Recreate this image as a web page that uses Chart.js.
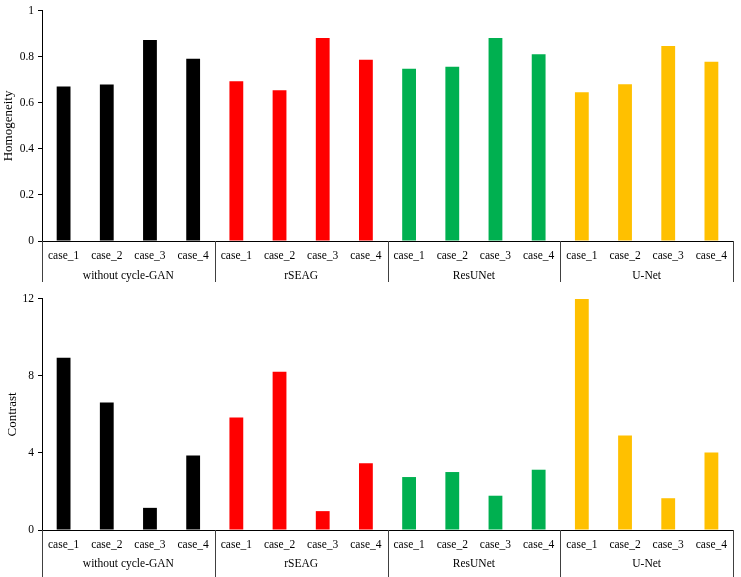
<!DOCTYPE html>
<html>
<head>
<meta charset="utf-8">
<script src="https://cdn.jsdelivr.net/npm/chart.js@4/dist/chart.umd.min.js"></script>
<style>
  html, body { margin: 0; padding: 0; background: #fff; }
  .panel { position: absolute; left: 0; width: 741px; }
  #top { top: 0; height: 288px; }
  #bottom { top: 288px; height: 289px; }
</style>
</head>
<body>
<div class="panel" id="top"><canvas id="chartHomogeneity"></canvas></div>
<div class="panel" id="bottom"><canvas id="chartContrast"></canvas></div>
<script>
const methods = ["without cycle-GAN", "rSEAG", "ResUNet", "U-Net"];
const cases = ["case_1", "case_2", "case_3", "case_4"];
const methodColors = ["#000000", "#FF0000", "#00B050", "#FFC000"];

// values read per method, case_1..case_4
const homogeneityWithout = [0.671, 0.680, 0.874, 0.792];
const homogeneityRSEAG = [0.694, 0.655, 0.882, 0.788];
const homogeneityResUNet = [0.749, 0.757, 0.882, 0.812];
const homogeneityUNet = [0.647, 0.681, 0.848, 0.779];

const contrastWithout = [8.95, 6.62, 1.15, 3.87];
const contrastRSEAG = [5.84, 8.22, 0.98, 3.46];
const contrastResUNet = [2.75, 3.01, 1.78, 3.13];
const contrastUNet = [12.0, 4.91, 1.65, 4.03];

const labels = methods.flatMap(() => cases);
const barColors = methods.flatMap((m, i) => cases.map(() => methodColors[i]));
const serif = "'Liberation Serif', 'Times New Roman', serif";

const groupPlugin = {
  id: `groups`,
  afterDraw(chart, args, opts) {
    const { ctx, chartArea } = chart;
    const x = chart.scales.x;
    const y0 = chartArea.bottom;
    ctx.save();
    ctx.strokeStyle = `#404040`;
    ctx.lineWidth = 1;
    for (let g = 0; g <= methods.length; g++) {
      const px = Math.round(x.getPixelForValue(g * cases.length - 0.5)) + 0.5;
      ctx.beginPath();
      ctx.moveTo(px, y0);
      ctx.lineTo(px, y0 + opts.lineLength);
      ctx.stroke();
    }
    ctx.fillStyle = `#000`;
    ctx.font = `11.5px ${serif}`;
    ctx.textAlign = `center`;
    ctx.textBaseline = `middle`;
    methods.forEach((m, g) => {
      const cx = x.getPixelForValue(g * cases.length + 1.5);
      ctx.fillText(m, cx, y0 + opts.labelOffset);
    });
    ctx.restore();
  }
};

function MakeChart(id, { data, max, step, title, titlePad, top, lineLength, labelOffset, format }) {
  const ctx = document.getElementById(id).getContext(`2d`);
  return new Chart(ctx, {
    type: `bar`,
    data: {
      labels,
      datasets: [{
        data,
        backgroundColor: barColors,
        borderWidth: 0,
        categoryPercentage: 1,
        barPercentage: 0.32
      }]
    },
    options: {
      responsive: true,
      maintainAspectRatio: false,
      animation: false,
      layout: { padding: { top, right: 8, bottom: 19, left: 0 } },
      plugins: {
        legend: { display: false },
        tooltip: { enabled: false },
        groups: { lineLength, labelOffset }
      },
      scales: {
        x: {
          grid: { display: false, tickLength: 0 },
          border: { display: true, color: `#000`, width: 1 },
          ticks: {
            color: `#000`,
            padding: 8,
            maxRotation: 0,
            autoSkip: false,
            font: { family: serif, size: 11.5 }
          },
          afterFit: (s) => { s.height = 28; }
        },
        y: {
          min: 0,
          max,
          ticks: {
            stepSize: step,
            color: `#000`,
            padding: 4,
            font: { family: serif, size: 11.5 },
            callback: format
          },
          grid: { drawOnChartArea: false, drawTicks: true, tickLength: 4, color: `#000` },
          border: { display: true, color: `#000`, width: 1 },
          title: {
            display: true,
            text: title,
            color: `#000`,
            padding: { top: titlePad, bottom: 0 },
            font: { family: serif, size: 13 }
          },
          afterFit: (s) => { s.width = 42; }
        }
      }
    },
    plugins: [groupPlugin]
  });
}

MakeChart(`chartHomogeneity`, {
  data: [...homogeneityWithout, ...homogeneityRSEAG, ...homogeneityResUNet, ...homogeneityUNet],
  max: 1,
  step: 0.2,
  title: `Homogeneity`,
  titlePad: 1,
  top: 9,
  lineLength: 41,
  labelOffset: 35,
  format: (v) => String(Math.round(v * 10) / 10)
});

MakeChart(`chartContrast`, {
  data: [...contrastWithout, ...contrastRSEAG, ...contrastResUNet, ...contrastUNet],
  max: 12,
  step: 4,
  title: `Contrast`,
  titlePad: 5,
  top: 10,
  lineLength: 47,
  labelOffset: 34,
  format: (v) => String(v)
});
</script>
</body>
</html>
